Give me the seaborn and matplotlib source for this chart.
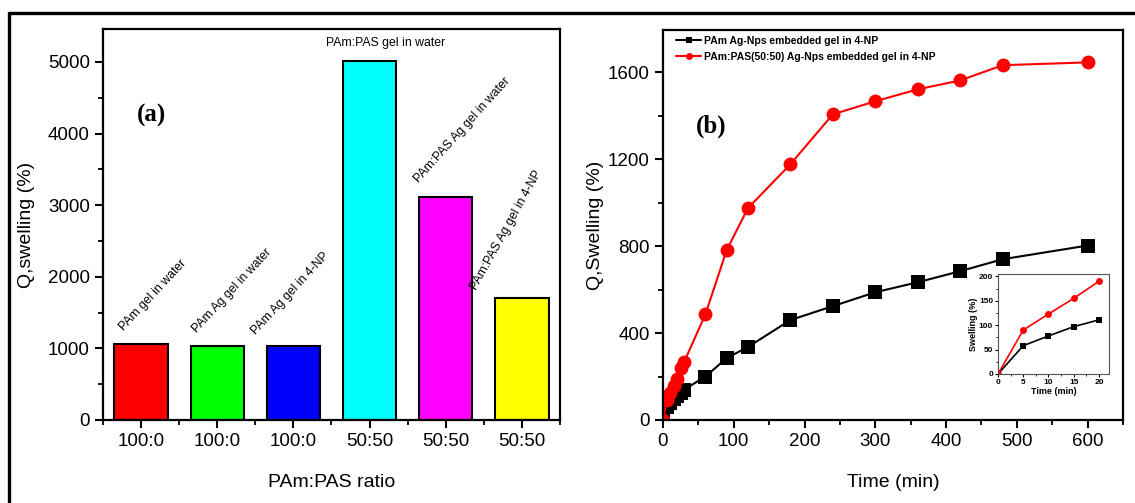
import numpy as np
import pandas as pd
import matplotlib
matplotlib.use("Agg")
import matplotlib.pyplot as plt
import seaborn as sns
from matplotlib.ticker import MultipleLocator, FixedLocator
from matplotlib.lines import Line2D

# ---------------- data ----------------
bar_names = ["PAm gel in water", "PAm Ag gel in water", "PAm Ag gel in 4-NP",
             "PAm:PAS gel in water", "PAm:PAS Ag gel in water", "PAm:PAS Ag gel in 4-NP"]
bar_ratios = ["100:0", "100:0", "100:0", "50:50", "50:50", "50:50"]
bar_values = [1060, 1030, 1040, 5020, 3110, 1700]
bar_colors = ["#ff0000", "#00ff00", "#0000ff", "#00ffff", "#ff00ff", "#ffff00"]

time_min = [0, 5, 10, 15, 20, 25, 30, 60, 90, 120, 180, 240, 300, 360, 420, 480, 600]
pam_q = [0, 58, 78, 97, 111, 125, 140, 200, 285, 336, 460, 524, 588, 634, 685, 740, 803]
pampas_q = [0, 90, 123, 155, 190, 240, 268, 487, 782, 975, 1177, 1407, 1467, 1522, 1563, 1633, 1646]
series_names = ["PAm Ag-Nps embedded gel in 4-NP",
                "PAm:PAS(50:50) Ag-Nps embedded gel in 4-NP"]
inset_max_time = 20

# ---------------- style ----------------
sns.set_style("ticks")
plt.rcParams["font.family"] = ["Liberation Sans", "DejaVu Sans"]
plt.rcParams["axes.linewidth"] = 1.6
for key in ["text.color", "axes.labelcolor", "xtick.color", "ytick.color", "axes.edgecolor"]:
    plt.rcParams[key] = "black"

W, H = 1135, 503
fig = plt.figure(figsize=(W / 100, H / 100), dpi=100)

def frac(l, t, r, b):
    return [l / W, 1 - b / H, (r - l) / W, (b - t) / H]

axa = fig.add_axes(frac(103, 29, 560, 420))
axb = fig.add_axes(frac(663, 30, 1123, 420))

# ---------------- panel (a) ----------------
dfa = pd.DataFrame({"name": bar_names, "value": bar_values})
sns.barplot(data=dfa, x="name", y="value", hue="name", palette=bar_colors,
            order=bar_names, hue_order=bar_names, width=0.7, legend=False,
            edgecolor="black", linewidth=1.5, saturation=1, ax=axa)
axa.set_xlim(-0.5, 5.5)
axa.set_ylim(0, 5460)
axa.set_xticks(range(len(bar_ratios)))
axa.set_xticklabels(bar_ratios)
axa.xaxis.set_minor_locator(FixedLocator(np.arange(-0.5, 6, 1.0)))
axa.yaxis.set_major_locator(MultipleLocator(1000))
axa.yaxis.set_minor_locator(MultipleLocator(500))
axa.set_xlabel("PAm:PAS ratio", fontsize=14, labelpad=17)
axa.set_ylabel("Q,swelling (%)", fontsize=14, labelpad=9)

ann = [  # (dx from bar centre, y, rotation)
    (-0.20, 1215, 47),
    (-0.24, 1187, 47),
    (-0.47, 1160, 47),
    (None, 5265, 0),
    (-0.33, 3282, 48),
    (-0.56, 1788, 61),
]
for i, (name, (dx, yy, rot)) in enumerate(zip(bar_names, ann)):
    if rot == 0:
        axa.text(i + 0.21, yy, name, fontsize=8.8, ha="center", va="center")
    else:
        axa.text(i + dx, yy, name, fontsize=8.8, ha="left", va="bottom",
                 rotation=rot, rotation_mode="anchor")
fig.text(152 / W, 1 - 115 / H, "(a)", fontsize=18, fontweight="bold",
         family="Liberation Serif", ha="center", va="center")

# ---------------- panel (b) ----------------
dfb = pd.DataFrame({
    "t": time_min + time_min,
    "q": pam_q + pampas_q,
    "series": [series_names[0]] * len(time_min) + [series_names[1]] * len(time_min),
})
pal = {series_names[0]: "black", series_names[1]: "#ff0000"}
mk = {series_names[0]: "s", series_names[1]: "o"}
sns.lineplot(data=dfb, x="t", y="q", hue="series", style="series", palette=pal,
             markers=mk, dashes=False, markersize=10, markeredgewidth=0,
             linewidth=1.5, ax=axb)
axb.set_xlim(0, 650)
axb.set_ylim(0, 1795)
axb.xaxis.set_major_locator(MultipleLocator(100))
axb.xaxis.set_minor_locator(MultipleLocator(50))
axb.yaxis.set_major_locator(MultipleLocator(400))
axb.yaxis.set_minor_locator(MultipleLocator(200))
axb.set_xlabel("Time (min)", fontsize=14, labelpad=17)
axb.set_ylabel("Q,Swelling (%)", fontsize=14, labelpad=3)
leg = axb.legend(loc="upper left", bbox_to_anchor=(0.02, 0.995), frameon=False,
                 prop={"size": 7.5, "weight": "bold"}, handlelength=2.4,
                 handletextpad=0.3, borderaxespad=0, labelspacing=0.55)
for h in leg.legend_handles:
    h.set_markersize(5)
fig.text(711 / W, 1 - 126 / H, "(b)", fontsize=18, fontweight="bold",
         family="Liberation Serif", ha="center", va="center")

for ax in (axa, axb):
    ax.tick_params(which="major", length=6, width=1.5, labelsize=13.5, direction="out")
    ax.tick_params(which="minor", length=3.5, width=1.3, direction="out")
    for s in ax.spines.values():
        s.set_visible(True)
        s.set_linewidth(1.6)

# inset
ins = axb.inset_axes([(998 - 663) / 460, (420 - 374) / 390, 111 / 460, 100 / 390])
dfi = dfb[dfb["t"] <= inset_max_time]
sns.lineplot(data=dfi, x="t", y="q", hue="series", style="series", palette=pal,
             markers=mk, dashes=False, markersize=5, markeredgewidth=0,
             linewidth=1.2, legend=False, ax=ins)
ins.set_xlim(0, 22)
ins.set_ylim(0, 205)
ins.xaxis.set_major_locator(MultipleLocator(5))
ins.xaxis.set_minor_locator(MultipleLocator(2.5))
ins.yaxis.set_major_locator(MultipleLocator(50))
ins.yaxis.set_minor_locator(MultipleLocator(25))
ins.tick_params(which="major", length=2.5, width=0.8, labelsize=6, pad=1)
ins.tick_params(which="minor", length=1.5, width=0.6)
for lab in ins.get_xticklabels() + ins.get_yticklabels():
    lab.set_fontweight("bold")
ins.set_xlabel("Time (min)", fontsize=6.5, fontweight="bold", labelpad=1)
ins.set_ylabel("Swelling (%)", fontsize=6.5, fontweight="bold", labelpad=1)
for s in ins.spines.values():
    s.set_linewidth(0.8)
    s.set_color("#555555")

# outer frame
fig.add_artist(Line2D([9 / W, 1.0], [1 - 13 / H, 1 - 13 / H], color="black", lw=2.4))
fig.add_artist(Line2D([9 / W, 9 / W], [0, 1 - 13 / H], color="black", lw=2.4))

fig.savefig("out.png", dpi=100)
